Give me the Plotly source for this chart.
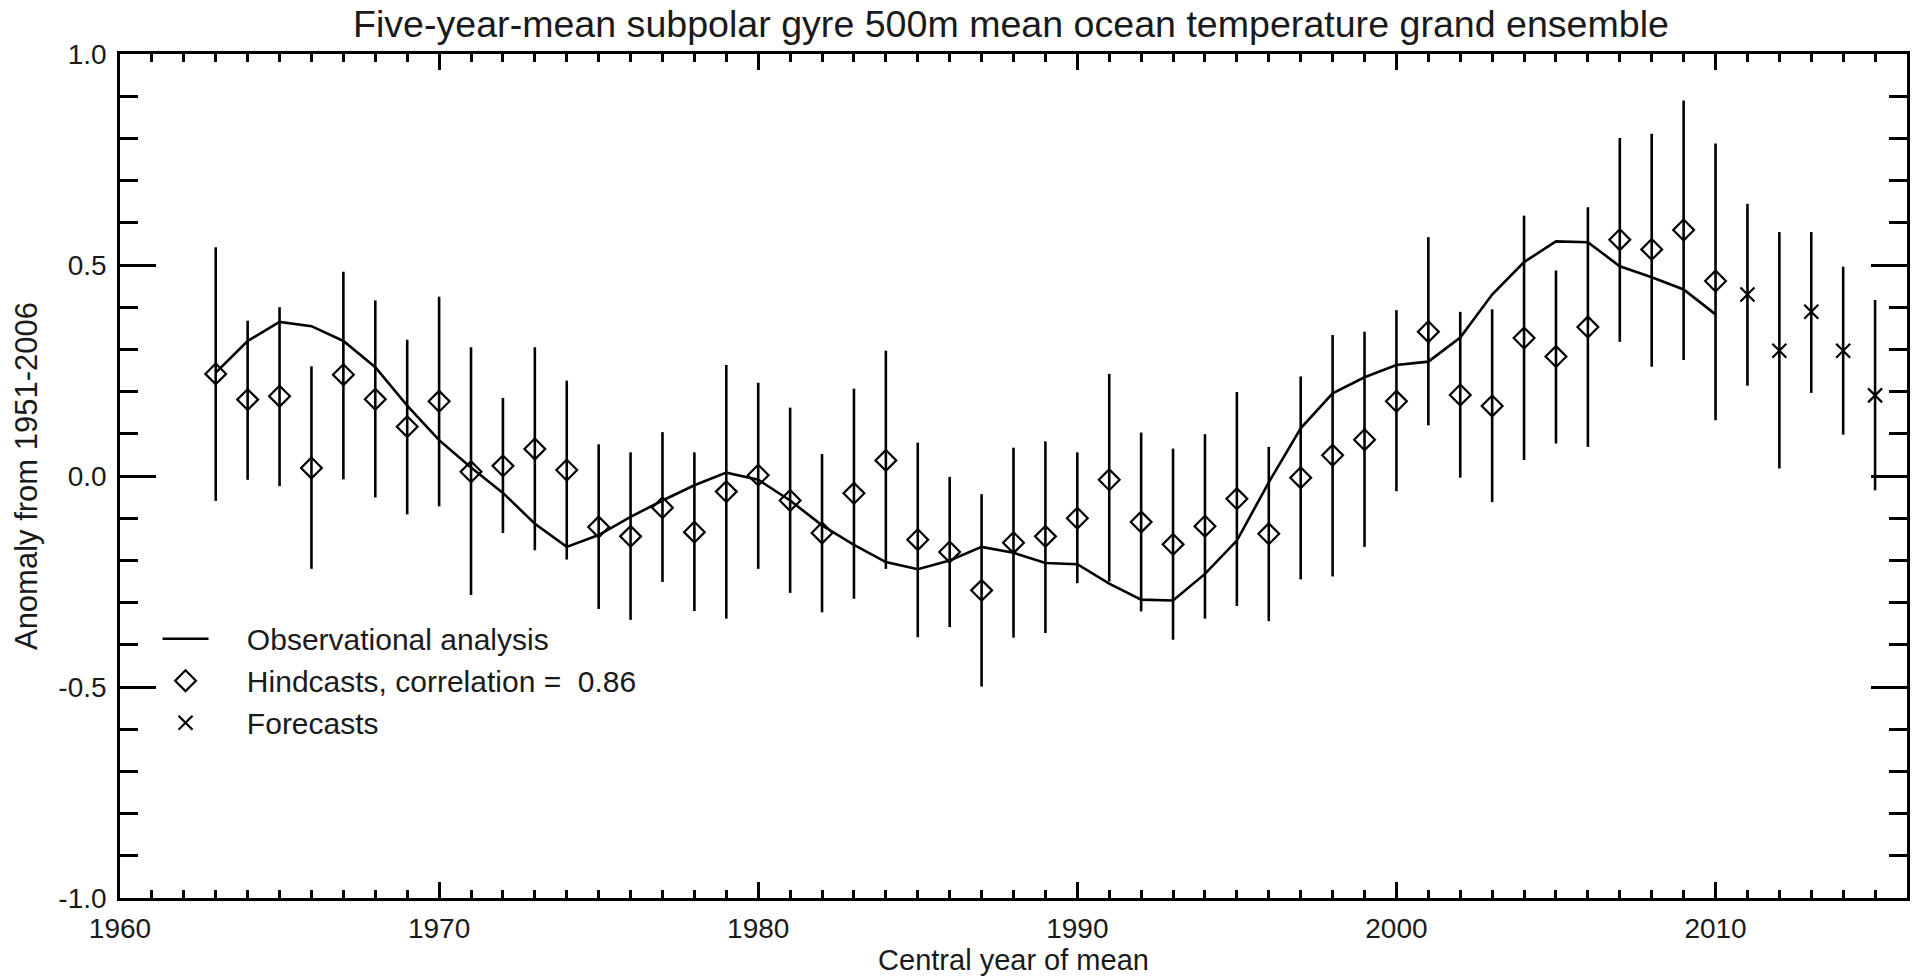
import plotly.graph_objects as go

# ---------------- data ----------------
obs_years = list(range(1963, 2011))
obs_anom = [0.245, 0.320, 0.365, 0.355, 0.320, 0.258, 0.167, 0.085, 0.020, -0.040,
            -0.113, -0.168, -0.140, -0.097, -0.058, -0.022, 0.008, -0.009, -0.058, -0.117,
            -0.163, -0.204, -0.221, -0.200, -0.168, -0.182, -0.206, -0.209, -0.255, -0.293,
            -0.295, -0.232, -0.153, -0.015, 0.113, 0.196, 0.234, 0.263, 0.271, 0.328,
            0.430, 0.507, 0.556, 0.554, 0.497, 0.471, 0.442, 0.383]

hind_years = list(range(1963, 2011))
hind_mean = [0.242, 0.181, 0.189, 0.019, 0.240, 0.182, 0.117, 0.177, 0.010, 0.024,
             0.064, 0.014, -0.121, -0.143, -0.075, -0.133, -0.037, 0.002, -0.058, -0.135,
             -0.041, 0.037, -0.151, -0.180, -0.271, -0.158, -0.143, -0.100, -0.009, -0.109,
             -0.162, -0.119, -0.054, -0.137, -0.004, 0.049, 0.086, 0.177, 0.342, 0.192,
             0.166, 0.327, 0.283, 0.353, 0.560, 0.537, 0.583, 0.462]
hind_upper = [0.542, 0.368, 0.400, 0.260, 0.484, 0.416, 0.323, 0.425, 0.305, 0.185,
              0.305, 0.226, 0.075, 0.056, 0.104, 0.056, 0.263, 0.221, 0.162, 0.052,
              0.207, 0.297, 0.079, -0.002, -0.043, 0.067, 0.082, 0.056, 0.242, 0.103,
              0.065, 0.099, 0.199, 0.069, 0.236, 0.334, 0.342, 0.393, 0.566, 0.389,
              0.395, 0.617, 0.487, 0.637, 0.801, 0.811, 0.890, 0.788]
hind_lower = [-0.059, -0.009, -0.024, -0.220, -0.008, -0.051, -0.091, -0.072, -0.282, -0.135,
              -0.176, -0.198, -0.315, -0.341, -0.251, -0.320, -0.338, -0.220, -0.277, -0.323,
              -0.291, -0.220, -0.382, -0.358, -0.499, -0.383, -0.372, -0.254, -0.250, -0.321,
              -0.388, -0.338, -0.308, -0.344, -0.245, -0.238, -0.168, -0.036, 0.120, -0.004,
              -0.062, 0.038, 0.077, 0.069, 0.318, 0.259, 0.275, 0.132]

fcst_years = [2011, 2012, 2013, 2014, 2015]
fcst_mean = [0.430, 0.297, 0.389, 0.297, 0.191]
fcst_upper = [0.645, 0.578, 0.578, 0.496, 0.417]
fcst_lower = [0.214, 0.018, 0.197, 0.098, -0.034]

x_tick_vals = [1960, 1970, 1980, 1990, 2000, 2010]
y_tick_vals = [-1.0, -0.5, 0.0, 0.5, 1.0]
y_tick_text = ["-1.0", "-0.5", "0.0", "0.5", "1.0"]

title_text = "Five-year-mean subpolar gyre 500m mean ocean temperature grand ensemble"
x_title = "Central year of mean"
y_title = "Anomaly from 1951-2006"
obs_name = "Observational analysis"
hind_name = "Hindcasts, correlation =\u00a0 0.86"
fcst_name = "Forecasts"

# ---------------- figure ----------------
INK = "black"
TXT = "#1a1a1a"
FONT = "Liberation Sans, Arial, Helvetica, sans-serif"
PAD = "\u00a0" * 4  # gap between legend glyph and legend text

hind_plus = [u - m for u, m in zip(hind_upper, hind_mean)]
hind_minus = [m - l for m, l in zip(hind_mean, hind_lower)]
fcst_plus = [u - m for u, m in zip(fcst_upper, fcst_mean)]
fcst_minus = [m - l for m, l in zip(fcst_mean, fcst_lower)]

fig = go.Figure()

# error bars (no visible marker)
fig.add_trace(go.Scatter(
    x=hind_years, y=hind_mean, mode="markers",
    marker=dict(size=1, color="rgba(0,0,0,0)"),
    error_y=dict(type="data", symmetric=False, array=hind_plus, arrayminus=hind_minus,
                 width=0, thickness=2.6, color=INK),
    showlegend=False, hoverinfo="skip"))
fig.add_trace(go.Scatter(
    x=fcst_years, y=fcst_mean, mode="markers",
    marker=dict(size=1, color="rgba(0,0,0,0)"),
    error_y=dict(type="data", symmetric=False, array=fcst_plus, arrayminus=fcst_minus,
                 width=0, thickness=2.6, color=INK),
    showlegend=False, hoverinfo="skip"))

fig.add_trace(go.Scatter(
    x=obs_years, y=obs_anom, mode="lines", name=PAD + obs_name,
    line=dict(color=INK, width=2.6)))
fig.add_trace(go.Scatter(
    x=hind_years, y=hind_mean, mode="markers", name=PAD + hind_name,
    marker=dict(symbol="diamond-open", size=16, color=INK, line=dict(width=2.2, color=INK))))
fig.add_trace(go.Scatter(
    x=fcst_years, y=fcst_mean, mode="markers", name=PAD + fcst_name,
    marker=dict(symbol="x-thin-open", size=14, color=INK, line=dict(width=2.2, color=INK))))

axis_common = dict(
    showline=True, linewidth=2.6, linecolor=INK, mirror="allticks",
    ticks="inside", tickwidth=2.6, tickcolor=INK,
    showgrid=False, zeroline=False,
    tickfont=dict(family=FONT, size=28, color=TXT),
)

fig.update_xaxes(
    **axis_common,
    range=[1960, 2016], tickmode="array", tickvals=x_tick_vals,
    ticklen=16, ticklabelstandoff=4,
    minor=dict(tick0=1960, dtick=1, ticks="inside", ticklen=8, tickwidth=2.6,
               tickcolor=INK, showgrid=False),
    title=dict(text=x_title, font=dict(family=FONT, size=29, color=TXT), standoff=3),
)
fig.update_yaxes(
    **axis_common,
    range=[-1.0, 1.0], tickmode="array", tickvals=y_tick_vals, ticktext=y_tick_text,
    ticklen=36, ticklabelstandoff=5,
    minor=dict(tick0=-1.0, dtick=0.1, ticks="inside", ticklen=18, tickwidth=2.6,
               tickcolor=INK, showgrid=False),
    title=dict(text=y_title, font=dict(family=FONT, size=31, color=TXT), standoff=12),
)

fig.update_layout(
    width=1912, height=976, autosize=False,
    margin=dict(l=120, r=2, t=54, b=78),
    paper_bgcolor="white", plot_bgcolor="white",
    font=dict(family=FONT, size=30, color=TXT),
    title=dict(text=title_text, x=1011 / 1912, xanchor="center", y=1 - 24 / 976,
               yanchor="middle", yref="container",
               font=dict(family=FONT, size=37.6, color=TXT)),
    showlegend=True,
    legend=dict(x=0.021, y=0.338, xanchor="left", yanchor="top",
                bgcolor="rgba(0,0,0,0)", borderwidth=0,
                font=dict(family=FONT, size=30, color=TXT),
                itemwidth=46, tracegroupgap=0, traceorder="normal"),
)

fig.write_html("out.html")
